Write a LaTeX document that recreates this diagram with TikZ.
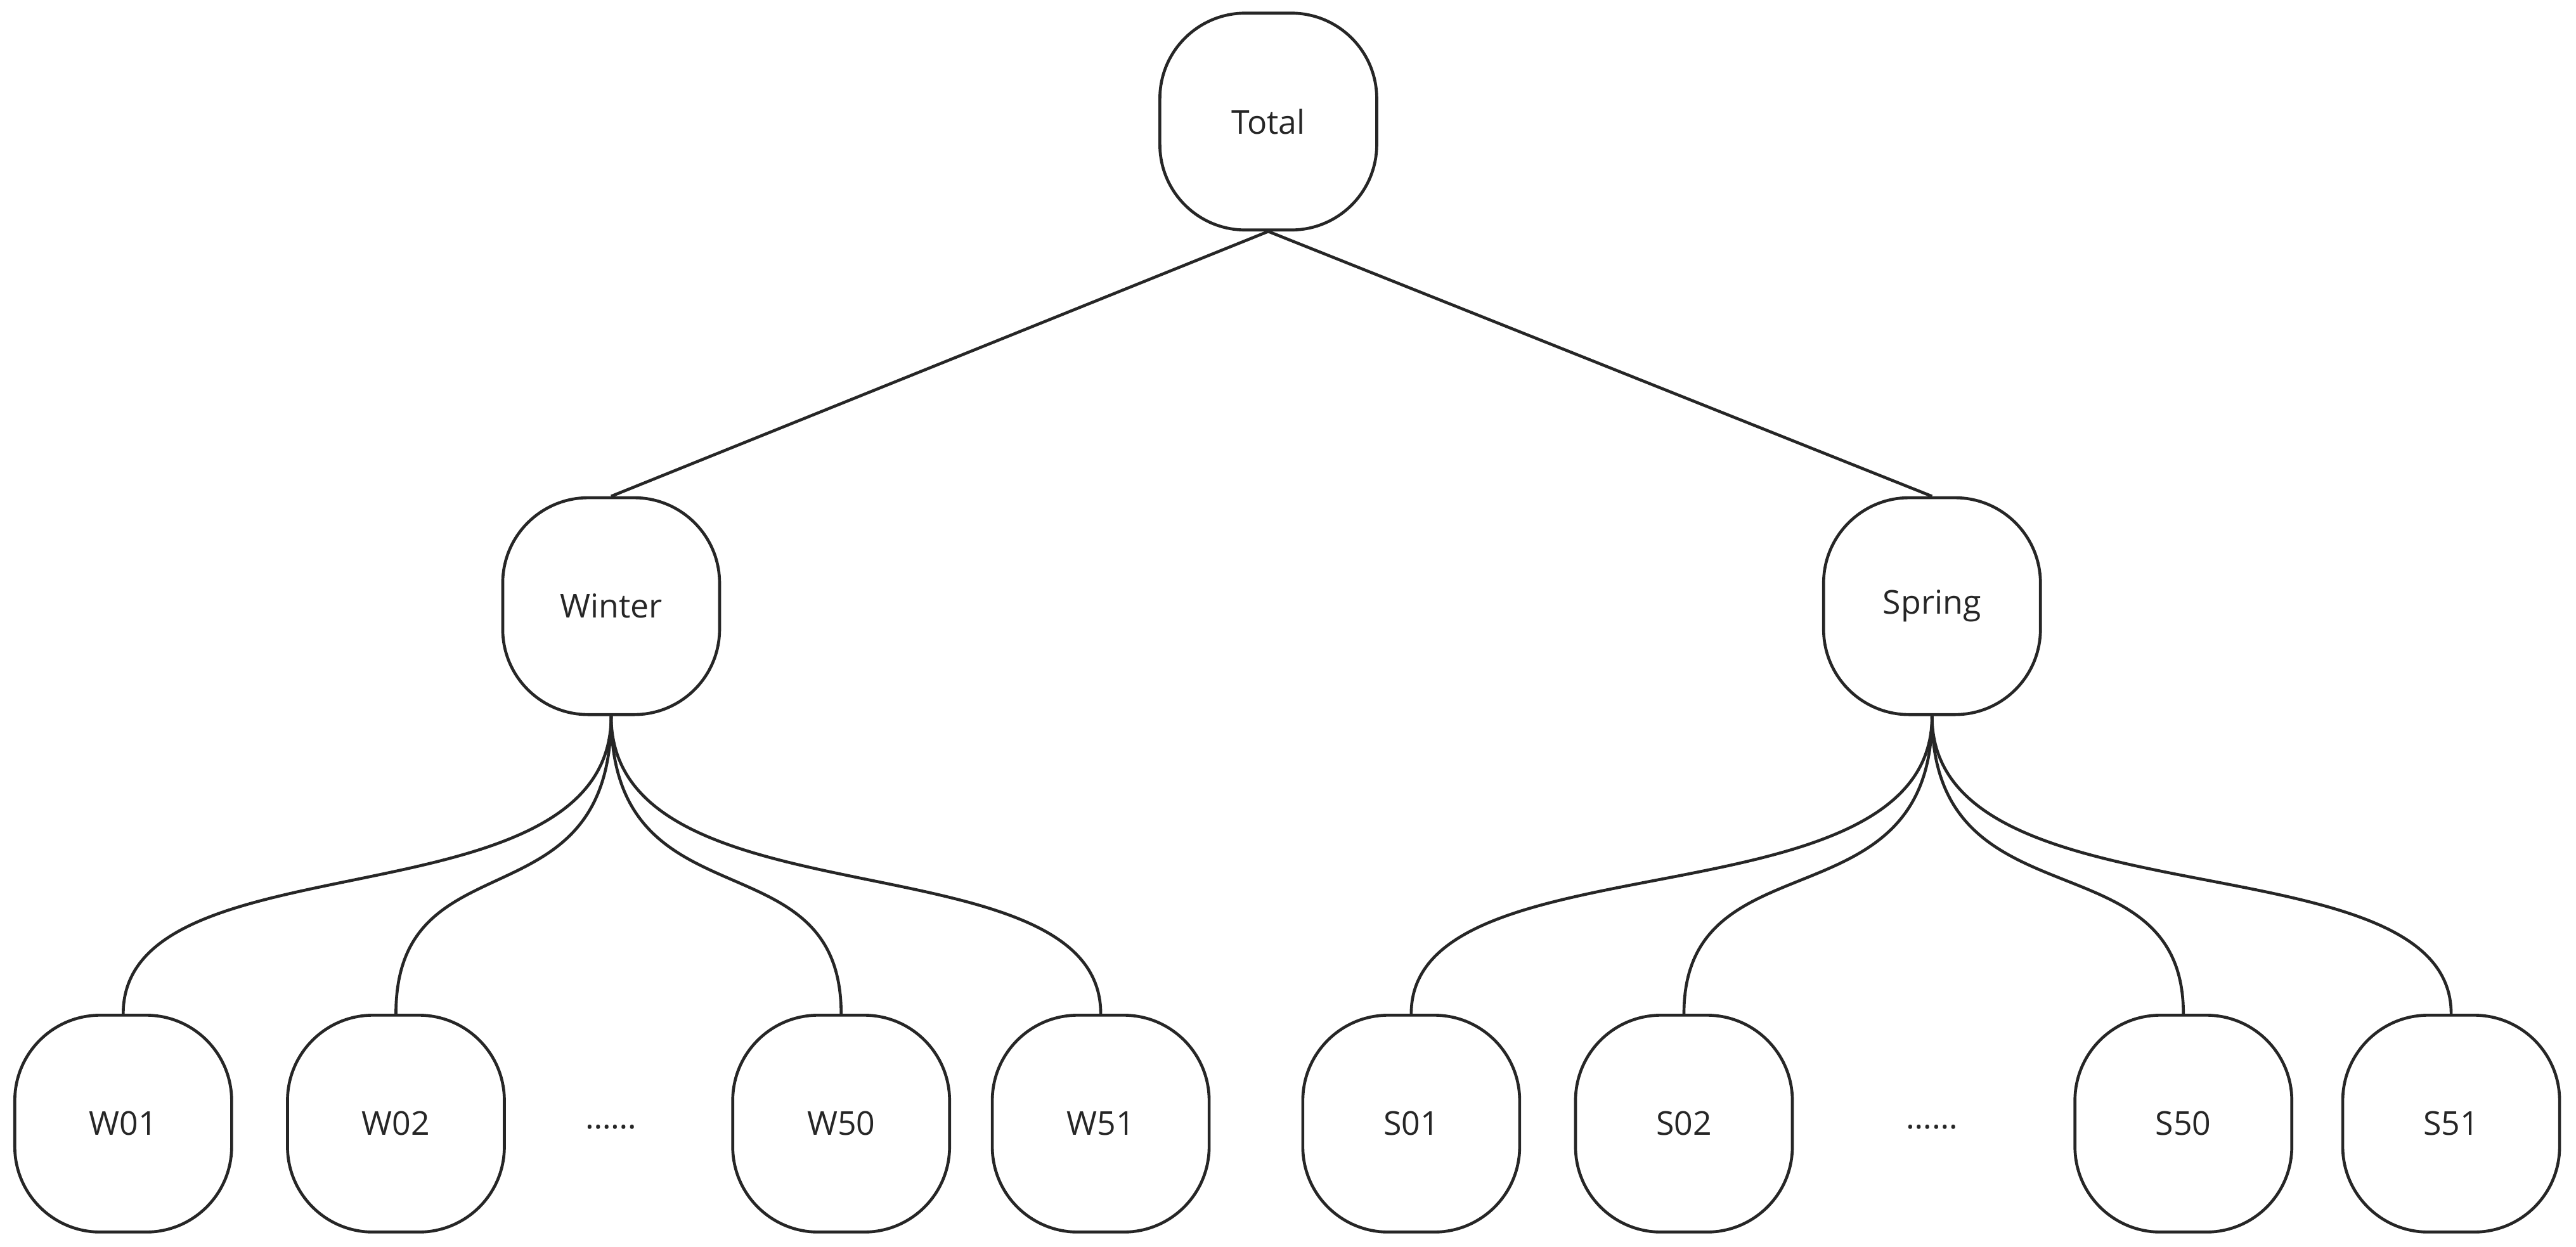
\documentclass[tikz,border=0pt]{standalone}
\usepackage{fontspec}
\setmainfont{Open Sans}
\begin{document}
\begin{tikzpicture}[x=1pt,y=-1pt,
  bx/.style={draw=black!85,line width=1.8pt,rounded corners=52pt,minimum width=132pt,minimum height=132pt,inner sep=0pt,font=\fontsize{20}{24}\selectfont,text=black!85},
  ln/.style={draw=black!85,line width=1.8pt}]
\useasboundingbox (0,0) rectangle (1568,759);
\node[bx] (T) at (772,74) {Total};
\node[bx] (W) at (372,369) {Winter};
\node[bx] (S) at (1176,369) {Spring};
\foreach \n/\x/\t in {w1/75/W01,w2/241/W02,w3/512/W50,w4/670/W51,s1/859/S01,s2/1025/S02,s3/1329/S50,s4/1492/S51}
  \node[bx] (\n) at (\x,684) {\t};
\node[font=\fontsize{20}{24}\selectfont,text=black!85] (d1) at (372,686) {\dots\dots};
\node[font=\fontsize{20}{24}\selectfont,text=black!85] (d2) at (1176,686) {\dots\dots};
\draw[ln] (T.south) -- (W.north);
\draw[ln] (T.south) -- (S.north);
\foreach \p/\c in {W/w1,W/w2,W/w3,W/w4,S/s1,S/s2,S/s3,S/s4}
  \draw[ln] (\p.south) .. controls ([yshift=-130pt]\p.south) and ([yshift=110pt]\c.north) .. (\c.north);
\end{tikzpicture}
\end{document}
